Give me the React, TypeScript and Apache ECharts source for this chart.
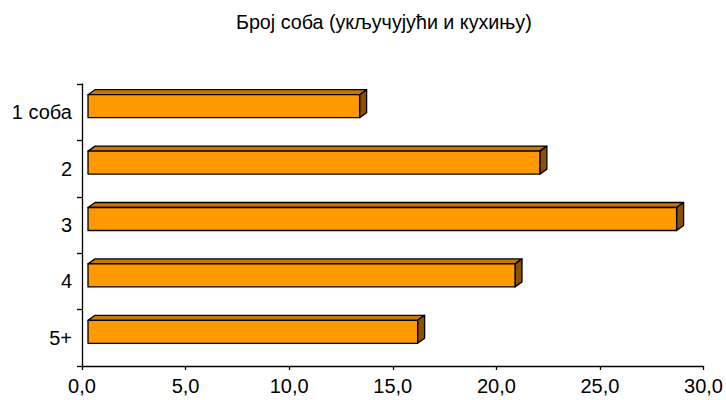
import React, { useEffect, useRef } from "react";
import * as echarts from "echarts";

const titleText = "Број соба (укључујући и кухињу)";
const categories = ["1 соба", "2", "3", "4", "5+"];
const values = [13.4, 22.1, 28.7, 20.9, 16.2];
const xTicks = [0, 5, 10, 15, 20, 25, 30];

export default function App() {
  const ref = useRef<HTMLDivElement>(null);
  useEffect(() => {
    if (!ref.current) return;
    document.body.style.margin = "0";
    const chart = echarts.init(ref.current, null, { renderer: "svg" });
    const data = values.map((v, i) => [v, i]);
    chart.setOption({
      animation: false,
      backgroundColor: "#ffffff",
      title: {
        text: titleText,
        left: 231,
        top: 7,
        textStyle: {
          fontFamily: "Liberation Sans, Arial, sans-serif",
          fontSize: 19.7,
          fontWeight: "normal",
          color: "#000",
        },
      },
      grid: { left: 82, right: 21, top: 84, bottom: 34 },
      xAxis: {
        type: "value",
        min: xTicks[0],
        max: xTicks[xTicks.length - 1],
        interval: 5,
        splitLine: { show: false },
        axisLine: { show: true, lineStyle: { color: "#000", width: 1.3 } },
        axisTick: { show: true, length: 4, lineStyle: { color: "#000", width: 1.3 } },
        axisLabel: {
          margin: 10,
          color: "#000",
          fontSize: 20,
          fontFamily: "Liberation Sans, Arial, sans-serif",
          formatter: (v: number) => v.toFixed(1).replace(".", ","),
        },
      },
      yAxis: {
        type: "category",
        data: categories,
        inverse: true,
        axisLine: { show: true, lineStyle: { color: "#000", width: 1.3 } },
        axisTick: { show: true, length: 5, lineStyle: { color: "#000", width: 1.3 } },
        axisLabel: {
          margin: 10,
          color: "#000",
          fontSize: 20,
          fontFamily: "Liberation Sans, Arial, sans-serif",
        },
      },
      series: [
        {
          type: "custom",
          encode: { x: 0, y: 1 },
          data,
          renderItem: (params: any, api: any) => {
            const v = api.value(0);
            const idx = api.value(1);
            const base = api.coord([0, idx]);
            const end = api.coord([v, idx]);
            const h = 23;
            const dx = 7;
            const dy = 5;
            const cy = base[1] - 6;
            const x0 = base[0] + 6;
            const x1 = end[0];
            const y0 = cy - h / 2;
            const y1 = cy + h / 2;
            const stroke = { stroke: "#000", lineWidth: 1.3, lineJoin: "round" };
            return {
              type: "group",
              children: [
                {
                  type: "polygon",
                  shape: { points: [[x0, y0], [x0 + dx, y0 - dy], [x1 + dx, y0 - dy], [x1, y0]] },
                  style: { fill: "#C87800", ...stroke },
                },
                {
                  type: "polygon",
                  shape: { points: [[x1, y0], [x1 + dx, y0 - dy], [x1 + dx, y1 - dy], [x1, y1]] },
                  style: { fill: "#8A5200", ...stroke },
                },
                {
                  type: "rect",
                  shape: { x: x0, y: y0, width: x1 - x0, height: h },
                  style: { fill: "#FF9900", ...stroke },
                },
              ],
            };
          },
        },
      ],
    });
    return () => chart.dispose();
  }, []);
  return <div ref={ref} style={{ width: 726, height: 400 }} />;
}
